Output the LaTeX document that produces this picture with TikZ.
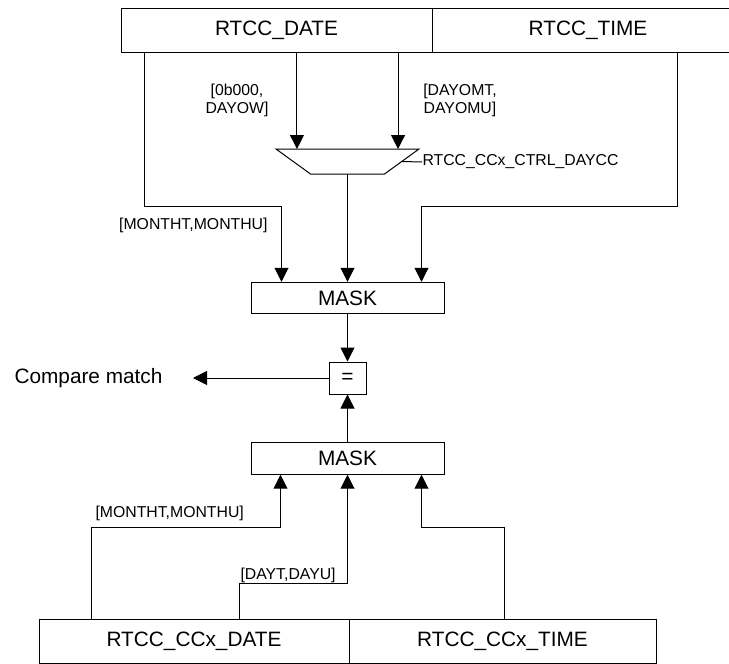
\documentclass[tikz,border=0pt]{standalone}
\usepackage{fontspec}
\setmainfont{Liberation Sans}
\usetikzlibrary{arrows.meta,positioning,shapes.geometric}

\begin{document}
\begin{tikzpicture}[x=0.75pt,y=-0.75pt,line width=0.75pt,
  regbox/.style={draw, minimum height=33pt, inner sep=0pt, font=\fontsize{15.6}{18}\selectfont},
  maskbox/.style={draw, minimum width=144.75pt, minimum height=23.6pt, inner sep=0pt, font=\fontsize{15.6}{18}\selectfont},
  lbl/.style={inner sep=0pt, font=\fontsize{11.85}{13.5}\selectfont},
  sig/.style={-{Triangle[length=10.5pt,width=10.5pt]}}]
  \useasboundingbox (0,0) rectangle (729,664);

  \node[regbox, minimum width=233.25pt] (date) at (276.5,30) {RTCC\_DATE};
  \node[regbox, minimum width=234pt] (time) at (588,30) {RTCC\_TIME};
  \node[minimum width=107.25pt, minimum height=18.75pt, inner sep=0pt, outer sep=0pt] (mux) at (347.5,161.5) {};
  \draw (mux.north west) -- (mux.north east) -- ([xshift=-25.875pt]mux.south east)
        -- ([xshift=25.875pt]mux.south west) -- cycle;
  \node[maskbox] (masktop) at (347.5,298) {MASK};
  \node[draw, minimum width=27.75pt, minimum height=24pt, inner sep=0pt, font=\fontsize{15.6}{18}\selectfont] (eq) at (347.5,378) {=};
  \node[inner sep=0pt, anchor=east, font=\fontsize{15.6}{18}\selectfont] (cmp) at (163,378) {Compare match};
  \node[maskbox] (maskbot) at (347.5,458.5) {MASK};
  \node[regbox, minimum width=232.5pt] (ccdate) at (194,641) {RTCC\_CCx\_DATE};
  \node[regbox, minimum width=230.25pt] (cctime) at (502.5,641) {RTCC\_CCx\_TIME};

  \node[lbl, align=center] (dow) at (237,100) {[0b000,\\DAYOW]};
  \node[lbl, align=center] (dom) at (460,100) {[DAYOMT,\\DAYOMU]};
  \node[lbl, anchor=west] (sel) at (422,162) {RTCC\_CCx\_CTRL\_DAYCC};
  \node[lbl, anchor=east] (monthtop) at (268,225) {[MONTHT,MONTHU]};
  \node[lbl, anchor=west] (monthbot) at (95,513) {[MONTHT,MONTHU]};
  \node[lbl, anchor=west] (day) at (240,575) {[DAYT,DAYU]};

  \draw[sig] ([xshift=-37.9pt]mux.north |- date.south) -- ([xshift=-37.9pt]mux.north);
  \draw[sig] ([xshift=37.9pt]mux.north |- date.south) -- ([xshift=37.9pt]mux.north);
  \draw ([xshift=-12.75pt]mux.east) -- (sel.west);
  \draw[sig] (mux.south) -- (masktop.north);
  \draw[sig] ([xshift=18pt]date.south west) -- ++(0,154) -| ([xshift=23.25pt]masktop.north west);
  \draw[sig] ([xshift=184.5pt]time.south west) -- ++(0,154) -| ([xshift=-17.25pt]masktop.north east);
  \draw[sig] (masktop.south) -- (eq.north);
  \draw[sig] (eq.west) -- ([xshift=22.5pt]cmp.east);
  \draw[sig] (maskbot.north) -- (eq.south);
  \draw[sig] ([xshift=39.75pt]ccdate.north west) -- ++(0,-91) -| ([xshift=22.5pt]maskbot.south west);
  \draw[sig] ([xshift=150.75pt]ccdate.north west) -- ++(0,-35) -| (maskbot.south);
  \draw[sig] ([xshift=117pt]cctime.north west) -- ++(0,-91) -| ([xshift=-17.25pt]maskbot.south east);
\end{tikzpicture}
\end{document}
